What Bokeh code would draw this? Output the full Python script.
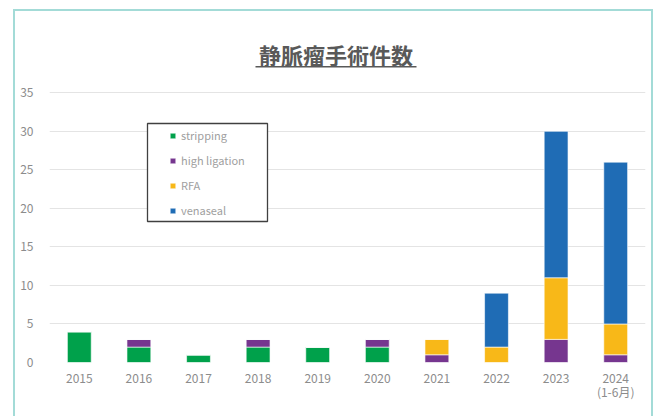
from bokeh.plotting import figure
from bokeh.models import (ColumnDataSource, Range1d, FactorRange, Legend, LegendItem,
                          Label, BoxAnnotation, FixedTicker)
from bokeh.embed import file_html
from bokeh.resources import INLINE

# ---- data ----
years = ["2015", "2016", "2017", "2018", "2019", "2020", "2021", "2022", "2023", "2024"]
stripping = [4, 2, 1, 2, 2, 2, 0, 0, 0, 0]
high_ligation = [0, 1, 0, 1, 0, 1, 1, 0, 3, 1]
rfa = [0, 0, 0, 0, 0, 0, 2, 2, 8, 4]
venaseal = [0, 0, 0, 0, 0, 0, 0, 7, 19, 21]
series_names = ["stripping", "high ligation", "RFA", "venaseal"]
y_ticks = [0, 5, 10, 15, 20, 25, 30, 35]
title_text = "静脈瘤手術件数"
last_year_note = "(1-6月)"
x_labels = years[:-1] + [years[-1] + "\n" + last_year_note]

colors = ["#00a14b", "#76368f", "#f8b818", "#1f6cb5"]

data = {"x": x_labels, "stripping": stripping, "high ligation": high_ligation,
        "RFA": rfa, "venaseal": venaseal}
source = ColumnDataSource(data)

W, H = 640, 410
# frame spans up to the top of the canvas so the title can live inside it
p = figure(x_range=FactorRange(*x_labels), y_range=Range1d(0, 45.55),
           width=W, height=H, output_backend="svg", toolbar_location=None,
           min_border_left=34, min_border_right=10, min_border_top=0, min_border_bottom=59,
           outline_line_color=None, background_fill_color="white", border_fill_color="white")
p.styles = {"border": "2px solid #a3dbd7", "margin-left": "13px", "margin-top": "9px"}

renderers = p.vbar_stack(series_names, x="x", width=0.4, source=source, color=colors,
                         line_color="white", line_alpha=0.6, line_width=1)

# axes styling
p.yaxis.ticker = FixedTicker(ticks=y_ticks)
for ax in (p.xaxis, p.yaxis):
    ax.axis_line_color = None
    ax.major_tick_line_color = None
    ax.minor_tick_line_color = None
    ax.major_label_text_color = "#8c8c8c"
    ax.major_label_text_font = "Noto Sans CJK JP"
    ax.major_label_text_font_size = "12px"
p.xaxis.major_label_standoff = 0
p.xaxis.major_label_text_line_height = 0.85
p.yaxis.major_label_standoff = 10
p.xgrid.grid_line_color = None
p.ygrid.grid_line_color = "#e4e4e4"
p.ygrid.grid_line_width = 1

# legend frame (screen units relative to the plot frame)
p.add_layout(BoxAnnotation(left=98, right=218, bottom=141, top=239,
                           left_units="screen", right_units="screen",
                           top_units="screen", bottom_units="screen",
                           fill_color="white", fill_alpha=1,
                           line_color="#404040", line_width=1.3, line_alpha=1))

items = [LegendItem(label=n, renderers=[r]) for n, r in zip(series_names, renderers)]
legend = Legend(items=items, location=(120, 144), orientation="vertical",
                border_line_alpha=0, background_fill_alpha=0,
                glyph_width=7, glyph_height=7, label_standoff=5,
                label_text_font="Noto Sans CJK JP", label_text_font_size="11px",
                label_text_color="#a0a0a0", label_height=16, spacing=9,
                padding=0, margin=0)
p.add_layout(legend, "center")

# title with underline
p.add_layout(Label(x=286.5, y=309, x_units="screen", y_units="screen", text=title_text,
                   text_align="center", text_baseline="middle",
                   text_font="Noto Sans CJK JP", text_font_style="bold",
                   text_font_size="22px", text_color="#595959"))
p.add_layout(BoxAnnotation(left=206, right=367, bottom=295, top=296.5,
                           left_units="screen", right_units="screen",
                           top_units="screen", bottom_units="screen",
                           fill_color="#595959", fill_alpha=1, line_color=None))

open("out.html", "w").write(file_html(p, INLINE))
